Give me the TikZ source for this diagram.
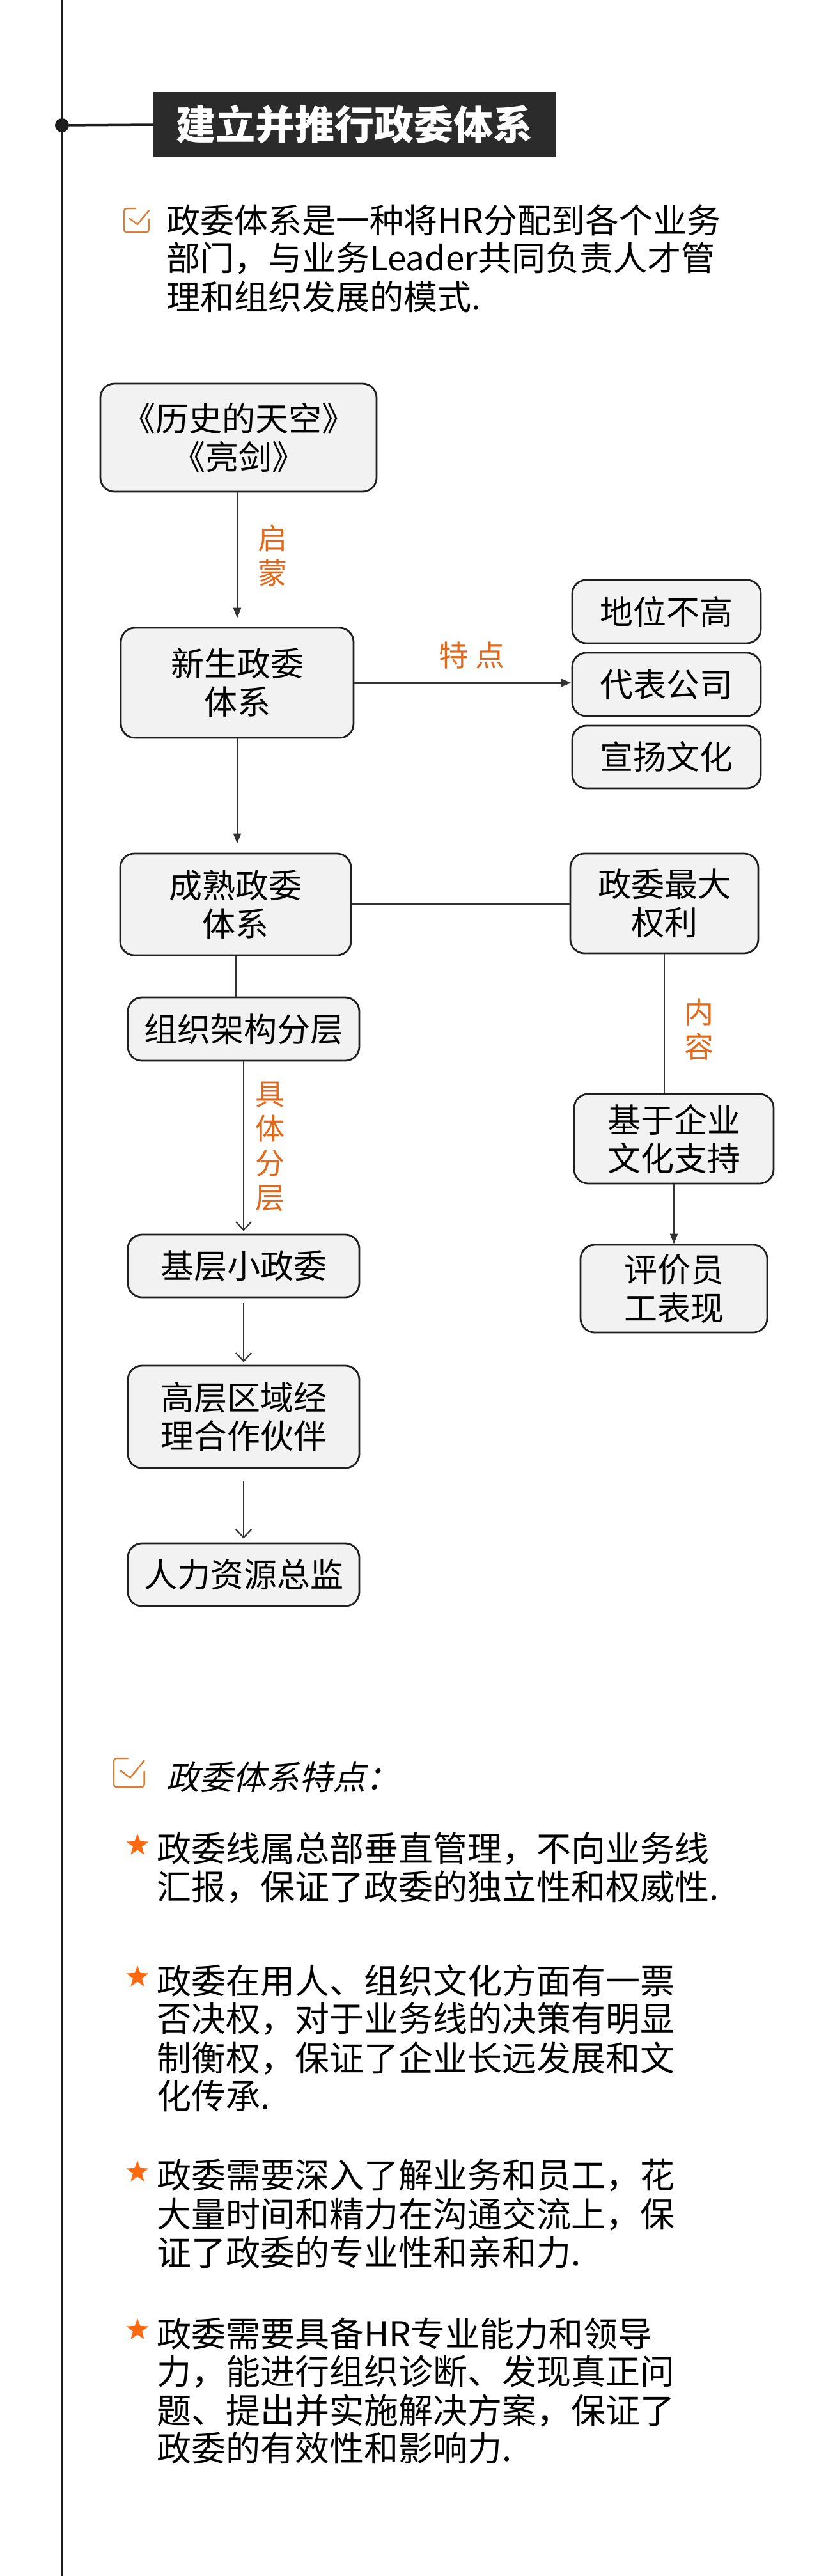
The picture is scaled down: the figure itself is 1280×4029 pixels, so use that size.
\documentclass[tikz,border=0pt]{standalone}
\usepackage{fontspec}
\setmainfont{Noto Sans CJK SC}
\newfontfamily\cjkit{Noto Sans CJK SC}[FakeSlant=0.22]
\usetikzlibrary{arrows.meta,shapes.geometric,calc}
\definecolor{spinec}{HTML}{1E1E1E}
\definecolor{titlebg}{HTML}{2B2B2B}
\definecolor{boxgrey}{HTML}{F2F2F2}
\definecolor{edgec}{HTML}{1F1F1F}
\definecolor{connc}{HTML}{333333}
\definecolor{lblorange}{HTML}{E2691C}
\definecolor{iconorange}{HTML}{E07B33}
\definecolor{starc}{HTML}{FF6A10}
\begin{document}
\begin{tikzpicture}[x=1pt,y=-1pt,
  spine/.style={draw=spinec,line width=3.5pt},
  titlebox/.style={fill=titlebg,text=white,inner sep=0pt,minimum width=629pt,minimum height=102pt,font=\fontsize{62}{70}\selectfont\bfseries},
  flowbox/.style={draw=edgec,line width=2.8pt,fill=boxgrey,rounded corners=22pt,align=center,inner sep=0pt,font=\fontsize{52}{60}\selectfont},
  conn/.style={draw=connc,line width=2.2pt},
  thick conn/.style={draw=connc,line width=3pt},
  tri/.style={-{Triangle[length=16pt,width=12pt]}},
  barb/.style={-{Straight Barb[length=13pt,width=24pt]}},
  lbl/.style={text=lblorange,align=center,inner sep=0pt,font=\fontsize{46}{54}\selectfont},
  bodytxt/.style={anchor=west,inner sep=0pt,font=\fontsize{53}{60}\selectfont},
  bullettxt/.style={anchor=west,inner sep=0pt,font=\fontsize{54}{60}\selectfont},
  bstar/.style={star,star points=5,star point ratio=2.4,fill=starc,minimum size=36pt,inner sep=0pt},
  chk/.pic={
    \draw[iconorange,line width=2.4pt,line cap=round,line join=round,rounded corners=4pt]
      (18,0) -- (0,0) -- (0,37) -- (39,37) -- (39,17);
    \draw[iconorange,line width=2.4pt,line cap=round,line join=round]
      (9,16) -- (21,25) -- (39,3);
  }
]
\fill[white] (0,0) rectangle (1280,4029);
\useasboundingbox (0,0) rectangle (1280,4029);

% spine and title
\draw[spine] (97,0) -- (97,4029);
\node[circle,fill=spinec,minimum size=22pt,inner sep=0pt] (dot) at (97,196) {};
\node[titlebox] (title) at (554.5,195) {建立并推行政委体系};
\draw[spine] (dot) -- (title.west);

% intro paragraph
\pic at (194,326) {chk};
\node[bodytxt] (p1) at (260,344) {政委体系是一种将HR分配到各个业务};
\node[bodytxt] (p2) at (260,404) {部门，与业务Leader共同负责人才管};
\node[bodytxt] (p3) at (260,464) {理和组织发展的模式.};

% flow chart boxes
\node[flowbox,minimum width=432pt,minimum height=169pt] (A) at (373,684.5) {《历史的天空》\\《亮剑》};
\node[flowbox,minimum width=364pt,minimum height=172pt] (B) at (371,1068) {新生政委\\体系};
\node[flowbox,minimum width=295pt,minimum height=99pt] (R1) at (1042.5,956.5) {地位不高};
\node[flowbox,minimum width=295pt,minimum height=99pt] (R2) at (1042.5,1070.5) {代表公司};
\node[flowbox,minimum width=295pt,minimum height=98pt] (R3) at (1042.5,1184) {宣扬文化};
\node[flowbox,minimum width=361pt,minimum height=159pt] (C) at (368.5,1414.5) {成熟政委\\体系};
\node[flowbox,minimum width=294pt,minimum height=156pt] (D) at (1039,1413) {政委最大\\权利};
\node[flowbox,minimum width=362pt,minimum height=99pt] (E) at (381,1609.5) {组织架构分层};
\node[flowbox,minimum width=312pt,minimum height=140pt] (F) at (1054,1781) {基于企业\\文化支持};
\node[flowbox,minimum width=292pt,minimum height=137pt] (G) at (1054,2015.5) {评价员\\工表现};
\node[flowbox,minimum width=362pt,minimum height=98pt] (H) at (381,1980) {基层小政委};
\node[flowbox,minimum width=362pt,minimum height=160pt] (I) at (381,2216) {高层区域经\\理合作伙伴};
\node[flowbox,minimum width=362pt,minimum height=98pt] (J) at (381,2463) {人力资源总监};

% connectors
\draw[conn,tri,shorten >=14pt] (B.north |- A.south) -- (B.north);
\draw[thick conn,tri] (B.east) -- (B.east -| R2.west);
\draw[conn,tri,shorten >=14pt] (B.south) -- (B.south |- C.north);
\draw[thick conn] (C.east) -- (C.east -| D.west);
\draw[conn] (C.south) -- (C.south |- E.north);
\draw[conn,barb,shorten >=4pt] (E.south) -- (H.north);
\draw[conn,barb,shorten <=8pt,shorten >=4pt] (H.south) -- (I.north);
\draw[conn,barb,shorten <=19pt,shorten >=6pt] (I.south) -- (J.north);
\draw[conn] (D.south) -- (D.south |- F.north);
\draw[conn,tri] (F.south) -- (G.north);

% connector labels
\node[lbl] (l1) at (426,869) {启\\蒙};
\node[lbl] (l2) at (738,1025) {特\hspace{12pt}点};
\node[lbl] (l3) at (1093,1610) {内\\容};
\node[lbl] (l4) at (422,1793) {具\\体\\分\\层};

% features section
\pic[scale=1.22] at (178,2750) {chk};
\node[anchor=west,inner sep=0pt,font=\fontsize{52}{60}\selectfont\cjkit] (feat) at (260,2780) {政委体系特点：};

\node[bstar] (s1) at (215,2886) {};
\node[bullettxt] (b11) at (245,2892) {政委线属总部垂直管理，不向业务线};
\node[bullettxt] (b12) at (245,2952) {汇报，保证了政委的独立性和权威性.};

\node[bstar] (s2) at (215,3092) {};
\node[bullettxt] (b21) at (245,3098) {政委在用人、组织文化方面有一票};
\node[bullettxt] (b22) at (245,3158) {否决权，对于业务线的决策有明显};
\node[bullettxt] (b23) at (245,3219) {制衡权，保证了企业长远发展和文};
\node[bullettxt] (b24) at (245,3278) {化传承.};

\node[bstar] (s3) at (215,3397) {};
\node[bullettxt] (b31) at (245,3403) {政委需要深入了解业务和员工，花};
\node[bullettxt] (b32) at (245,3463) {大量时间和精力在沟通交流上，保};
\node[bullettxt] (b33) at (245,3523) {证了政委的专业性和亲和力.};

\node[bstar] (s4) at (215,3644) {};
\node[bullettxt] (b41) at (245,3650) {政委需要具备HR专业能力和领导};
\node[bullettxt] (b42) at (245,3710) {力，能进行组织诊断、发现真正问};
\node[bullettxt] (b43) at (245,3770) {题、提出并实施解决方案，保证了};
\node[bullettxt] (b44) at (245,3829) {政委的有效性和影响力.};
\end{tikzpicture}
\end{document}
